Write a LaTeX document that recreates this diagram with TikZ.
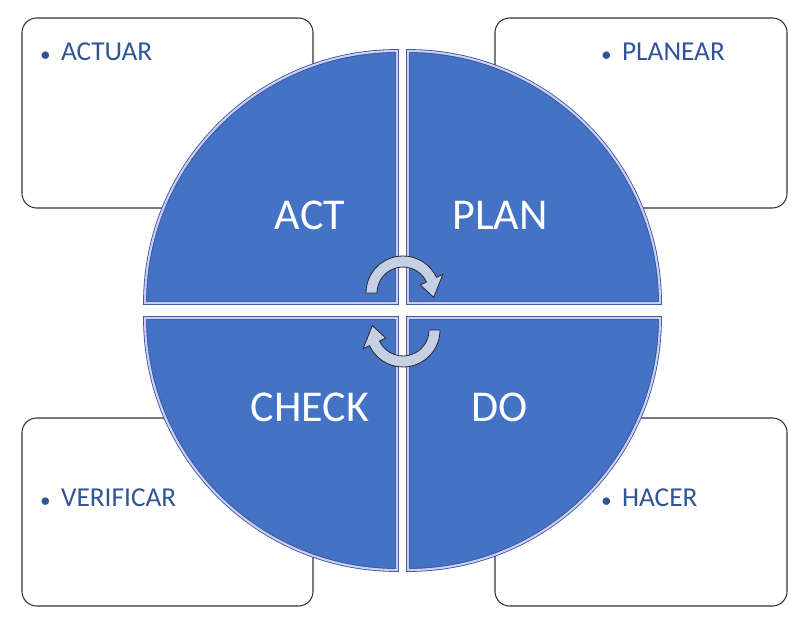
\documentclass[tikz,border=0pt]{standalone}
\usepackage{fontspec}
\setmainfont{Carlito}
\definecolor{quadblue}{HTML}{4472C4}
\definecolor{quadline}{HTML}{2F528F}
\definecolor{textblue}{HTML}{2F5597}
\definecolor{arrowfill}{HTML}{C5D0E6}

\begin{document}
\begin{tikzpicture}[x=0.75pt,y=-0.75pt]
    \tikzset{
        notebox/.style={draw=black!80, line width=0.8pt, rounded corners=11pt, fill=white},
        quad/.style={fill=quadblue, draw=quadline, double=blue!20, double distance=1.6pt, line width=0.6pt},
        quadlabel/.style={text=white, font=\fontsize{33}{36}\selectfont},
        notelabel/.style={text=textblue, font=\fontsize{20.5}{24}\selectfont, anchor=west},
        turnarrow/.style={fill=arrowfill, draw=black!85, line width=0.6pt}
    }
    \newcommand{\rad}{252}

    \useasboundingbox (0,0) rectangle (806,627);

    % note boxes
    \draw [notebox] (22,18) rectangle (313,208);
    \draw [notebox] (495,18) rectangle (787,208);
    \draw [notebox] (22,418) rectangle (313,606);
    \draw [notebox] (495,418) rectangle (787,606);

    \node [notelabel] (actuar) at (36,52) {\scalebox{0.7}{$\bullet$}\hspace{8pt}ACTUAR};
    \node [notelabel] (planear) at (597,52) {\scalebox{0.7}{$\bullet$}\hspace{8pt}PLANEAR};
    \node [notelabel] (verificar) at (36,498) {\scalebox{0.7}{$\bullet$}\hspace{8pt}VERIFICAR};
    \node [notelabel] (hacer) at (597,498) {\scalebox{0.7}{$\bullet$}\hspace{8pt}HACER};

    % quadrants
    \draw [quad] (397,303) -- ++(-\rad,0) arc (180:270:\rad) -- cycle;
    \draw [quad] (408,303) -- ++(0,-\rad) arc (270:360:\rad) -- cycle;
    \draw [quad] (397,318) -- ++(0,\rad) arc (90:180:\rad) -- cycle;
    \draw [quad] (408,318) -- ++(\rad,0) arc (0:90:\rad) -- cycle;

    \node [quadlabel] (act) at (310,215) {ACT};
    \node [quadlabel] (plan) at (500,215) {PLAN};
    \node [quadlabel] (check) at (310,407) {CHECK};
    \node [quadlabel] (do) at (500,407) {DO};

    % turning arrows
    \foreach \cx/\cy/\rot in {403/293/0, 403/330/180} {
        \begin{scope}[shift={(\cx,\cy)}, rotate=\rot]
            \draw [turnarrow] (180:37) arc (180:335:37) -- (335:44) -- (8:31)
                -- (335:19) -- (335:26) arc (335:180:26) -- cycle;
        \end{scope}
    }
\end{tikzpicture}
\end{document}
